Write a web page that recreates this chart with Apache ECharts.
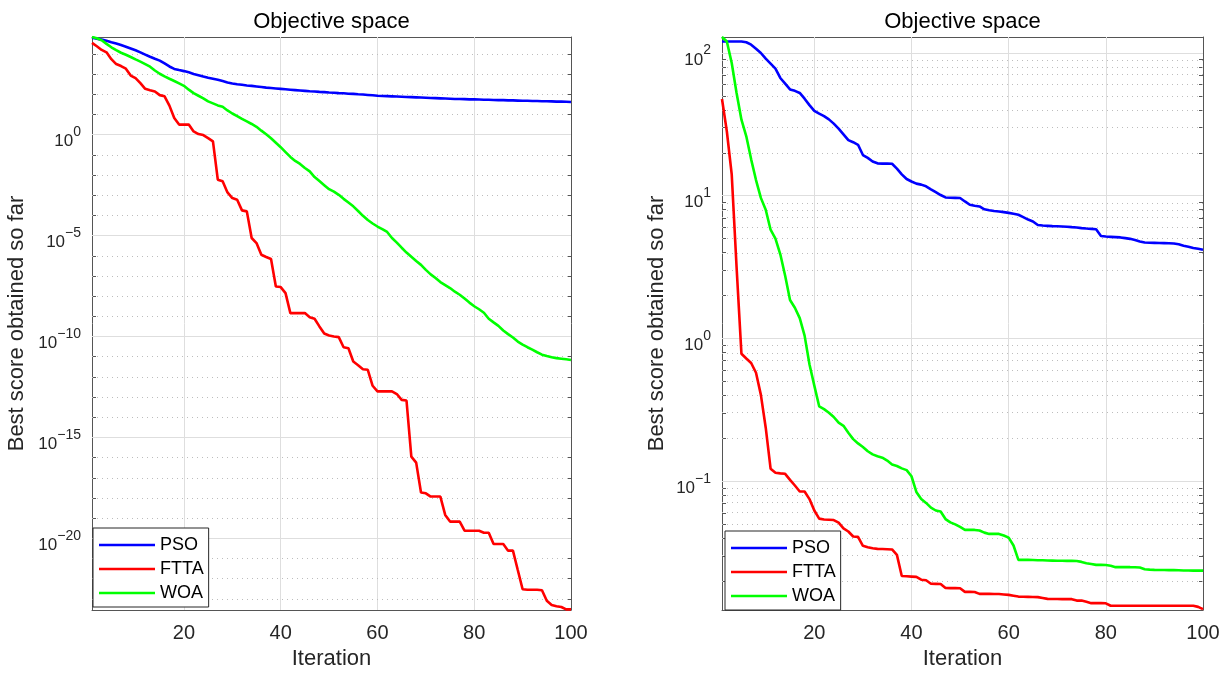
<!DOCTYPE html>
<html><head><meta charset="utf-8">
<script src="https://cdn.jsdelivr.net/npm/echarts@6/dist/echarts.min.js"></script>
<style>html,body{margin:0;padding:0;background:#fff}#c{width:1228px;height:675px}</style>
</head><body><div id="c"></div>
<script>
// ---- data (best score so far, stored as log10 values) ----
const iterations = Array.from({length: 100}, (_, i) => i + 1);
const seriesNames = ['PSO', 'FTTA', 'WOA'];

const leftPSO = [4.80,4.76,4.71,4.65,4.58,4.52,4.44,4.36,4.27,4.18,
 4.08,3.97,3.86,3.76,3.67,3.53,3.38,3.26,3.20,3.15,
 3.09,3.01,2.95,2.88,2.82,2.77,2.72,2.66,2.59,2.54,
 2.50,2.47,2.44,2.42,2.39,2.36,2.33,2.31,2.29,2.27,
 2.25,2.23,2.21,2.19,2.17,2.15,2.14,2.12,2.11,2.09,
 2.08,2.06,2.05,2.03,2.02,2.00,1.99,1.97,1.95,1.93,
 1.92,1.91,1.90,1.89,1.88,1.87,1.86,1.85,1.84,1.83,
 1.82,1.81,1.80,1.79,1.78,1.77,1.77,1.76,1.75,1.75,
 1.74,1.73,1.73,1.72,1.71,1.71,1.70,1.70,1.69,1.68,
 1.68,1.67,1.67,1.66,1.66,1.65,1.64,1.64,1.63,1.62];
const leftFTTA = [4.55,4.38,4.20,4.08,3.74,3.50,3.40,3.27,2.93,2.80,
 2.55,2.27,2.20,2.14,1.96,1.90,1.44,0.83,0.50,0.50,
 0.50,0.16,0.03,-0.02,-0.17,-0.33,-2.23,-2.31,-2.86,-3.14,
 -3.22,-3.75,-3.80,-5.12,-5.37,-5.95,-6.06,-6.16,-7.52,-7.55,
 -7.85,-8.84,-8.84,-8.84,-8.84,-9.04,-9.12,-9.50,-9.85,-9.95,
 -10.00,-10.03,-10.53,-10.58,-11.24,-11.42,-11.62,-11.65,-12.44,-12.72,
 -12.72,-12.72,-12.72,-12.85,-13.14,-13.17,-15.95,-16.25,-17.73,-17.77,
 -17.93,-17.93,-17.93,-18.84,-19.17,-19.17,-19.17,-19.62,-19.62,-19.62,
 -19.62,-19.72,-19.72,-20.28,-20.28,-20.28,-20.61,-20.61,-21.57,-22.52,
 -22.55,-22.55,-22.55,-22.57,-23.09,-23.30,-23.36,-23.40,-23.52,-23.52];
const leftWOA = [4.84,4.78,4.68,4.50,4.33,4.19,4.06,3.96,3.85,3.73,
 3.62,3.50,3.37,3.18,3.02,2.89,2.77,2.66,2.54,2.42,
 2.23,2.06,1.93,1.80,1.65,1.55,1.45,1.38,1.20,1.05,
 0.92,0.78,0.66,0.53,0.39,0.20,0.02,-0.18,-0.40,-0.62,
 -0.86,-1.10,-1.30,-1.45,-1.65,-1.82,-2.10,-2.30,-2.50,-2.70,
 -2.82,-2.98,-3.18,-3.36,-3.55,-3.78,-4.02,-4.23,-4.40,-4.55,
 -4.68,-4.82,-5.12,-5.35,-5.60,-5.84,-6.05,-6.26,-6.45,-6.70,
 -6.92,-7.10,-7.30,-7.45,-7.60,-7.78,-7.93,-8.12,-8.32,-8.50,
 -8.65,-8.82,-9.12,-9.30,-9.47,-9.70,-9.88,-10.05,-10.25,-10.40,
 -10.53,-10.65,-10.78,-10.90,-10.97,-11.03,-11.07,-11.10,-11.13,-11.16];

const rightPSO = [2.081,2.081,2.081,2.081,2.081,2.075,2.058,2.030,2.000,1.960,
 1.925,1.890,1.825,1.785,1.745,1.735,1.720,1.680,1.635,1.595,
 1.575,1.558,1.535,1.505,1.470,1.430,1.390,1.375,1.357,1.285,
 1.265,1.240,1.227,1.225,1.225,1.224,1.190,1.150,1.117,1.100,
 1.085,1.078,1.066,1.045,1.025,1.005,0.988,0.986,0.985,0.984,
 0.960,0.937,0.930,0.925,0.905,0.898,0.893,0.890,0.885,0.880,
 0.874,0.867,0.850,0.833,0.820,0.795,0.791,0.789,0.787,0.786,
 0.785,0.783,0.780,0.778,0.773,0.770,0.768,0.765,0.718,0.714,
 0.712,0.710,0.708,0.703,0.698,0.690,0.680,0.672,0.671,0.670,
 0.669,0.668,0.667,0.665,0.660,0.650,0.643,0.634,0.628,0.622];
const rightFTTA = [1.678,1.450,1.150,0.500,-0.107,-0.140,-0.172,-0.240,-0.395,-0.625,
 -0.912,-0.940,-0.945,-0.948,-0.990,-1.030,-1.072,-1.072,-1.125,-1.205,
 -1.262,-1.268,-1.270,-1.272,-1.290,-1.330,-1.352,-1.387,-1.390,-1.452,
 -1.462,-1.470,-1.474,-1.475,-1.476,-1.478,-1.516,-1.664,-1.666,-1.668,
 -1.670,-1.690,-1.694,-1.718,-1.719,-1.720,-1.748,-1.749,-1.749,-1.750,
 -1.775,-1.775,-1.776,-1.789,-1.789,-1.789,-1.790,-1.790,-1.793,-1.796,
 -1.802,-1.808,-1.809,-1.810,-1.811,-1.812,-1.818,-1.824,-1.825,-1.825,
 -1.826,-1.826,-1.826,-1.836,-1.836,-1.845,-1.854,-1.854,-1.854,-1.855,
 -1.872,-1.872,-1.872,-1.872,-1.872,-1.872,-1.872,-1.872,-1.872,-1.872,
 -1.872,-1.872,-1.872,-1.872,-1.872,-1.872,-1.872,-1.872,-1.880,-1.896];
const rightWOA = [2.112,2.080,1.930,1.720,1.533,1.416,1.255,1.110,0.985,0.902,
 0.762,0.700,0.590,0.440,0.270,0.215,0.143,0.020,-0.180,-0.330,
 -0.475,-0.495,-0.520,-0.550,-0.590,-0.612,-0.660,-0.705,-0.735,-0.760,
 -0.790,-0.812,-0.825,-0.835,-0.855,-0.882,-0.893,-0.910,-0.922,-0.965,
 -1.075,-1.125,-1.152,-1.185,-1.205,-1.212,-1.265,-1.288,-1.302,-1.320,
 -1.341,-1.341,-1.341,-1.345,-1.360,-1.369,-1.369,-1.369,-1.380,-1.395,
 -1.450,-1.551,-1.551,-1.551,-1.552,-1.553,-1.554,-1.555,-1.556,-1.557,
 -1.557,-1.558,-1.558,-1.559,-1.565,-1.574,-1.580,-1.586,-1.586,-1.587,
 -1.592,-1.602,-1.602,-1.602,-1.602,-1.603,-1.604,-1.616,-1.619,-1.621,
 -1.622,-1.622,-1.623,-1.623,-1.624,-1.625,-1.625,-1.626,-1.626,-1.626];

// ---- ticks (exponents) ----
const xTicks = [20, 40, 60, 80, 100];
const xGrid = [20, 40, 60, 80];
const leftMajorExp = [-20, -15, -10, -5, 0];
const leftMinorExp = [-23,-22,-21,-19,-18,-17,-16,-14,-13,-12,-11,-9,-8,-7,-6,-4,-3,-2,-1,1,2,3,4];
const rightMajorExp = [-1, 0, 1, 2];
const rightMinorMant = [2, 3, 4, 5, 6, 7, 8, 9];
const leftRange = [-23.55, 4.84];
const rightRange = [-1.902, 2.112];

// ---- styles ----
const FONT = '"Liberation Sans", Arial, Helvetica, sans-serif';
const AX = '#555';
const TXT = '#262626';
const COLORS = {PSO: '#0000ff', FTTA: '#ff0000', WOA: '#00ff00'};

const rightMinorExp = [];
[-2, -1, 0, 1].forEach(k => rightMinorMant.forEach(m => {
  const v = Math.log10(m) + k;
  if (v > rightRange[0] && v < rightRange[1]) rightMinorExp.push(v);
}));

// two-line label: exponent on the first line, "10" on the second; hidden twins keep columns aligned
function expLabel(v) {
  const n = Math.round(v);
  const s = n < 0 ? '\u2212' + Math.abs(n) : String(n);
  return '{hb|10}{s|' + s + '}\n{b|10}{hs|' + s + '}';
}
const HID = 'rgba(0,0,0,0)';
const labelRich = {
  hb: {fontSize: 17, fontFamily: FONT, color: HID, lineHeight: 14},
  s:  {fontSize: 14, fontFamily: FONT, color: TXT, lineHeight: 14},
  b:  {fontSize: 17, fontFamily: FONT, color: TXT, lineHeight: 5},
  hs: {fontSize: 14, fontFamily: FONT, color: HID, lineHeight: 5}
};

function yAxes(g, range, majors, minors, nameGap) {
  const base = {type: 'value', gridIndex: g, min: range[0], max: range[1], splitLine: {show: false}, minorTick: {show: false}};
  return [
    Object.assign({}, base, {
      position: 'left',
      axisLine: {show: true, onZero: false, lineStyle: {color: AX, width: 1}},
      axisTick: {show: true, inside: true, length: 6, customValues: majors, lineStyle: {color: AX}},
      axisLabel: {show: true, customValues: majors, formatter: expLabel, rich: labelRich, margin: 11},
      name: 'Best score obtained so far', nameLocation: 'middle', nameGap: nameGap,
      nameTextStyle: {fontSize: 22, fontFamily: FONT, color: TXT}
    }),
    Object.assign({}, base, {
      position: 'left',
      axisLine: {show: false, onZero: false},
      axisTick: {show: true, inside: true, length: 4, customValues: minors, lineStyle: {color: AX}},
      axisLabel: {show: false}
    }),
    Object.assign({}, base, {
      position: 'right',
      axisLine: {show: true, onZero: false, lineStyle: {color: AX, width: 1}},
      axisTick: {show: true, inside: true, length: 6, customValues: majors, lineStyle: {color: AX}},
      axisLabel: {show: false}
    }),
    Object.assign({}, base, {
      position: 'right',
      axisLine: {show: false, onZero: false},
      axisTick: {show: true, inside: true, length: 4, customValues: minors, lineStyle: {color: AX}},
      axisLabel: {show: false}
    })
  ];
}
function xAxes(g) {
  const base = {type: 'value', gridIndex: g, min: 1, max: 100, splitLine: {show: false}};
  return [
    Object.assign({}, base, {
      position: 'bottom',
      axisLine: {show: true, onZero: false, lineStyle: {color: AX, width: 1}},
      axisTick: {show: true, inside: true, length: 6, customValues: xTicks, lineStyle: {color: AX}},
      axisLabel: {show: true, customValues: xTicks, fontSize: 20, fontFamily: FONT, color: TXT, margin: 13},
      name: 'Iteration', nameLocation: 'middle', nameGap: 38,
      nameTextStyle: {fontSize: 22, fontFamily: FONT, color: TXT}
    }),
    Object.assign({}, base, {
      position: 'top',
      axisLine: {show: true, onZero: false, lineStyle: {color: AX, width: 1}},
      axisTick: {show: true, inside: true, length: 6, customValues: xTicks, lineStyle: {color: AX}},
      axisLabel: {show: false},
      name: 'Objective space', nameLocation: 'middle', nameGap: 4,
      nameTextStyle: {fontSize: 22, fontFamily: FONT, color: '#000'}
    })
  ];
}

function gridLines(g, majors, minors) {
  const major = {color: '#dedede', width: 1, type: 'solid'};
  const minor = {color: '#bdbdbd', width: 1, type: [1, 4]};
  const data = [];
  xGrid.forEach(v => data.push({xAxis: v, lineStyle: major}));
  majors.forEach(v => data.push({yAxis: v, lineStyle: major}));
  minors.forEach(v => data.push({yAxis: v, lineStyle: minor}));
  return {
    type: 'line', name: '__grid' + g, xAxisIndex: 2 * g, yAxisIndex: 4 * g, data: [], silent: true,
    markLine: {silent: true, z: 1, animation: false, symbol: ['none', 'none'], label: {show: false},
      emphasis: {disabled: true}, data: data}
  };
}

function curve(g, name, vals) {
  return {
    type: 'line', name: name, xAxisIndex: 2 * g, yAxisIndex: 4 * g,
    data: iterations.map((it, i) => [it, vals[i]]),
    symbol: 'none', showSymbol: false, z: 3,
    lineStyle: {color: COLORS[name], width: 2.6}, itemStyle: {color: COLORS[name]},
    emphasis: {disabled: true}
  };
}

function legendAt(left, top) {
  return {
    data: seriesNames, orient: 'vertical', left: left, top: top,
    icon: 'rect', itemWidth: 56, itemHeight: 2.6, itemGap: 6, padding: [8, 5, 5, 6],
    borderColor: '#262626', borderWidth: 1, backgroundColor: '#fff', borderRadius: 0,
    textStyle: {fontSize: 18, fontFamily: FONT, color: '#000', lineHeight: 18},
    selectedMode: false
  };
}

const chart = echarts.init(document.getElementById('c'), null, {renderer: 'canvas'});
chart.setOption({
  animation: false,
  backgroundColor: '#fff',
  grid: [
    {left: 92, top: 37, width: 479, height: 573, containLabel: false, outerBoundsMode: 'none'},
    {left: 722, top: 37, width: 481, height: 573, containLabel: false, outerBoundsMode: 'none'}
  ],
  xAxis: [].concat(xAxes(0), xAxes(1)),
  yAxis: [].concat(yAxes(0, leftRange, leftMajorExp, leftMinorExp, 64), yAxes(1, rightRange, rightMajorExp, rightMinorExp, 54)),
  legend: [legendAt(93, 528), legendAt(725, 531)],
  series: [
    gridLines(0, leftMajorExp, leftMinorExp),
    gridLines(1, rightMajorExp, rightMinorExp),
    curve(0, 'PSO', leftPSO), curve(0, 'FTTA', leftFTTA), curve(0, 'WOA', leftWOA),
    curve(1, 'PSO', rightPSO), curve(1, 'FTTA', rightFTTA), curve(1, 'WOA', rightWOA)
  ]
});
</script>
</body></html>
